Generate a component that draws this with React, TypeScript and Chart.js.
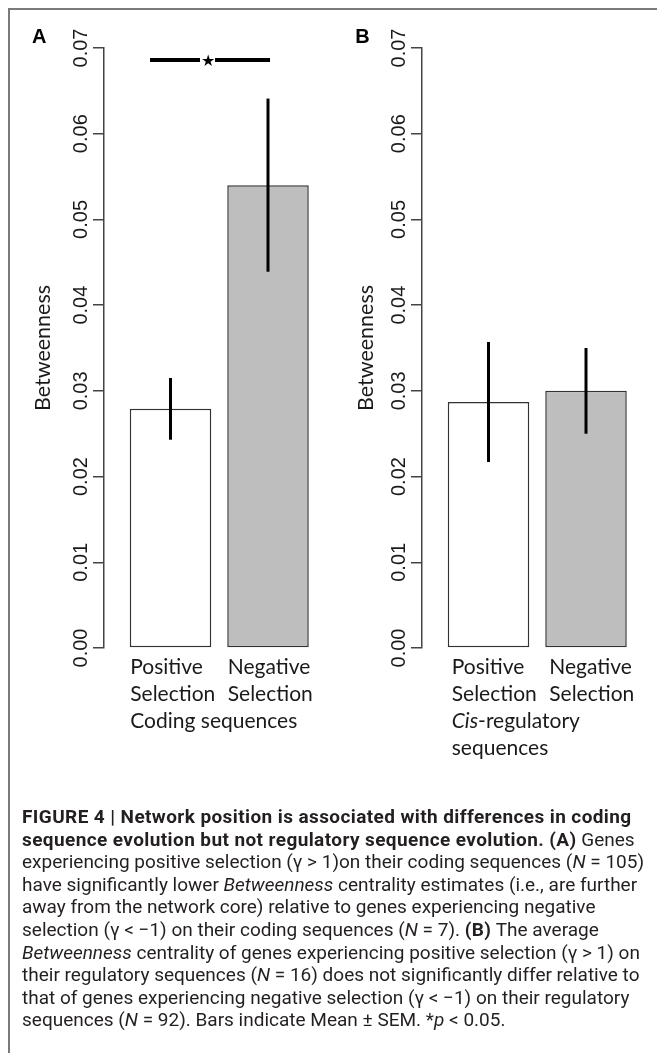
import React, { useEffect, useRef } from "react";
import { Chart, registerables } from "chart.js";

Chart.register(...registerables);

// ---------- data ----------
const CATEGORY_LINES: string[][] = [
  ["Positive", "Selection"],
  ["Negative", "Selection"],
];
const CODING_MEANS = [0.0279, 0.054];
const CODING_SEM = [0.0036, 0.0101];
const CIS_MEANS = [0.0287, 0.03];
const CIS_SEM = [0.007, 0.005];
const Y_TICK_VALUES = [0, 0.01, 0.02, 0.03, 0.04, 0.05, 0.06, 0.07];
const Y_TICK_LABELS = ["0.00", "0.01", "0.02", "0.03", "0.04", "0.05", "0.06", "0.07"];
const BAR_FILLS = ["#ffffff", "#bfbebf"];
const SIG_Y = 0.0686;
const SIG_LEFT_X = [0.448, 1.063];
const SIG_RIGHT_X = [1.248, 1.925];
const SIG_STAR_X = 1.165;
const Y_TITLE = "Betweenness";

// R barplot midpoints: width 1, space 0.2
const barPos = (i: number) => 0.7 + 1.2 * i;

const TICK_FONT_FAMILY = '"Liberation Sans", Arial, sans-serif';
const TICK_FONT_SIZE = 20;
const LABEL_FONT = '21px Lato, "Open Sans", sans-serif';

function measure(text: string, font: string) {
  const c = document.createElement("canvas").getContext("2d")!;
  c.font = font;
  return c.measureText(text).width;
}

type Seg = { text: string; italic?: boolean };

interface PanelCfg {
  letter: string;
  means: number[];
  sems: number[];
  sub: Seg[][];
  labelDx: number;
  titlePad: number;
  letterX: number;
  star: boolean;
}

function makeOverlay(cfg: PanelCfg) {
  return {
    id: "overlay_" + cfg.letter,
    afterDatasetsDraw(chart: any) {
      const { ctx, chartArea } = chart;
      const x = chart.scales.x;
      const y = chart.scales.y;
      ctx.save();
      // error bars
      ctx.strokeStyle = "#000";
      ctx.lineWidth = 3;
      ctx.lineCap = "butt";
      cfg.means.forEach((m, i) => {
        const px = x.getPixelForValue(barPos(i));
        ctx.beginPath();
        ctx.moveTo(px, y.getPixelForValue(m + cfg.sems[i]));
        ctx.lineTo(px, y.getPixelForValue(m - cfg.sems[i]));
        ctx.stroke();
      });
      // significance star
      if (cfg.star) {
        ctx.fillStyle = "#000";
        ctx.font = '16px "DejaVu Sans", sans-serif';
        ctx.textAlign = "center";
        ctx.textBaseline = "middle";
        ctx.fillText("\u2605", x.getPixelForValue(SIG_STAR_X), y.getPixelForValue(SIG_Y) + 1.5);
      }
      // category labels
      ctx.fillStyle = "#1a1a1a";
      ctx.textAlign = "left";
      ctx.textBaseline = "alphabetic";
      ctx.font = LABEL_FONT;
      const meta = chart.getDatasetMeta(0);
      const base = chartArea.bottom + 26;
      const lh = 27;
      let firstLeft = 0;
      meta.data.forEach((bar: any, i: number) => {
        const left = bar.x - bar.width / 2 + cfg.labelDx;
        if (i === 0) firstLeft = left;
        CATEGORY_LINES[i].forEach((line, j) => ctx.fillText(line, left, base + lh * j));
      });
      cfg.sub.forEach((segs, j) => {
        let cx = firstLeft;
        segs.forEach((s) => {
          ctx.font = (s.italic ? "italic " : "") + LABEL_FONT;
          ctx.fillText(s.text, cx, base + lh * (2 + j));
          cx += ctx.measureText(s.text).width;
        });
      });
      // panel letter
      ctx.font = 'bold 20px "Liberation Sans", Arial, sans-serif';
      ctx.fillStyle = "#000";
      ctx.fillText(cfg.letter, cfg.letterX, 35);
      ctx.restore();
    },
  };
}

function Panel({ cfg, left }: { cfg: PanelCfg; left: number }) {
  const ref = useRef<HTMLCanvasElement>(null);
  useEffect(() => {
    const tickFont = `${TICK_FONT_SIZE}px ${TICK_FONT_FAMILY}`;
    const widest = measure("0.00", tickFont);
    const datasets: any[] = [
      {
        type: "bar",
        data: cfg.means.map((m, i) => ({ x: barPos(i), y: m })),
        backgroundColor: BAR_FILLS,
        borderColor: "#333333",
        borderWidth: 1.5,
        borderSkipped: false,
        barPercentage: 0.836,
        categoryPercentage: 1,
        order: 2,
      },
    ];
    if (cfg.star) {
      [SIG_LEFT_X, SIG_RIGHT_X].forEach((xs) =>
        datasets.push({
          type: "line",
          data: xs.map((v) => ({ x: v, y: SIG_Y })),
          borderColor: "#000",
          borderWidth: 4,
          pointRadius: 0,
          fill: false,
          order: 1,
        })
      );
    }
    const chart = new Chart(ref.current!, {
      type: "bar",
      data: { datasets },
      plugins: [makeOverlay(cfg)],
      options: {
        responsive: false,
        animation: false,
        events: [],
        layout: { padding: { top: 40, bottom: 122, left: 0, right: 0 } },
        plugins: { legend: { display: false }, tooltip: { enabled: false } },
        scales: {
          x: {
            type: "linear",
            display: false,
            offset: false,
            min: -0.1185,
            max: 2.663,
            afterBuildTicks: (s: any) => {
              s.ticks = cfg.means.map((_, i) => ({ value: barPos(i) }));
            },
          },
          y: {
            type: "linear",
            min: 0,
            max: 0.07,
            afterBuildTicks: (s: any) => {
              s.ticks = Y_TICK_VALUES.map((v) => ({ value: v }));
            },
            afterFit: (s: any) => {
              s.width = 96;
            },
            ticks: {
              callback: (_v: any, i: number) => Y_TICK_LABELS[i],
              minRotation: 90,
              maxRotation: 90,
              crossAlign: "center",
              padding: 12 - widest / 2,
              color: "#1a1a1a",
              font: { family: TICK_FONT_FAMILY, size: TICK_FONT_SIZE },
            },
            grid: {
              drawOnChartArea: false,
              drawTicks: true,
              tickLength: 11,
              color: "#444",
              lineWidth: 1.5,
            },
            border: { display: true, color: "#444", width: 1.5 },
            title: {
              display: true,
              text: Y_TITLE,
              color: "#1a1a1a",
              font: { family: "Lato", size: 21.5, lineHeight: 1.2 },
              padding: { top: cfg.titlePad, bottom: 0 },
            },
          },
        },
      } as any,
    });
    return () => chart.destroy();
  }, []);
  return (
    <canvas
      ref={ref}
      width={322}
      height={762}
      style={{ position: "absolute", left, top: 0, width: 322, height: 762 }}
    />
  );
}

const PANEL_A: PanelCfg = {
  letter: "A",
  means: CODING_MEANS,
  sems: CODING_SEM,
  sub: [[{ text: "Coding sequences" }]],
  labelDx: 0.5,
  titlePad: 22.6,
  letterX: 24,
  star: true,
};
const PANEL_B: PanelCfg = {
  letter: "B",
  means: CIS_MEANS,
  sems: CIS_SEM,
  sub: [[{ text: "Cis", italic: true }, { text: "-regulatory" }], [{ text: "sequences" }]],
  labelDx: 4,
  titlePad: 27.2,
  letterX: 29.3,
  star: false,
};

const bold: React.CSSProperties = { fontWeight: 700, letterSpacing: "0.4px" };

export default function App() {
  return (
    <div style={{ position: "relative", width: 649, height: 1037 }}>
      <div
        style={{
          position: "fixed",
          left: 8,
          top: 8,
          width: 660,
          height: 1100,
          borderTop: "2px solid #7a7a7a",
          borderLeft: "2px solid #7a7a7a",
          boxSizing: "border-box",
          pointerEvents: "none",
        }}
      />
      <Panel cfg={PANEL_A} left={0} />
      <Panel cfg={PANEL_B} left={317.7} />
      <div
        style={{
          position: "absolute",
          left: 14,
          top: 798,
          fontFamily: "Roboto, sans-serif",
          fontSize: 19,
          lineHeight: "22.6px",
          color: "#231f20",
          whiteSpace: "nowrap",
        }}
      >
        <span style={bold}>FIGURE 4 | Network position is associated with differences in coding</span>
        <br />
        <span style={bold}>sequence evolution but not regulatory sequence evolution. (A)</span> Genes
        <br />
        experiencing positive selection (γ &gt; 1)on their coding sequences (<i>N</i> = 105)
        <br />
        have significantly lower <i>Betweenness</i> centrality estimates (i.e., are further
        <br />
        away from the network core) relative to genes experiencing negative
        <br />
        selection (γ &lt; −1) on their coding sequences (<i>N</i> = 7). <span style={bold}>(B)</span> The average
        <br />
        <i>Betweenness</i> centrality of genes experiencing positive selection (γ &gt; 1) on
        <br />
        their regulatory sequences (<i>N</i> = 16) does not significantly differ relative to
        <br />
        that of genes experiencing negative selection (γ &lt; −1) on their regulatory
        <br />
        sequences (<i>N</i> = 92). Bars indicate Mean ± SEM. *<i>p</i> &lt; 0.05.
      </div>
    </div>
  );
}
